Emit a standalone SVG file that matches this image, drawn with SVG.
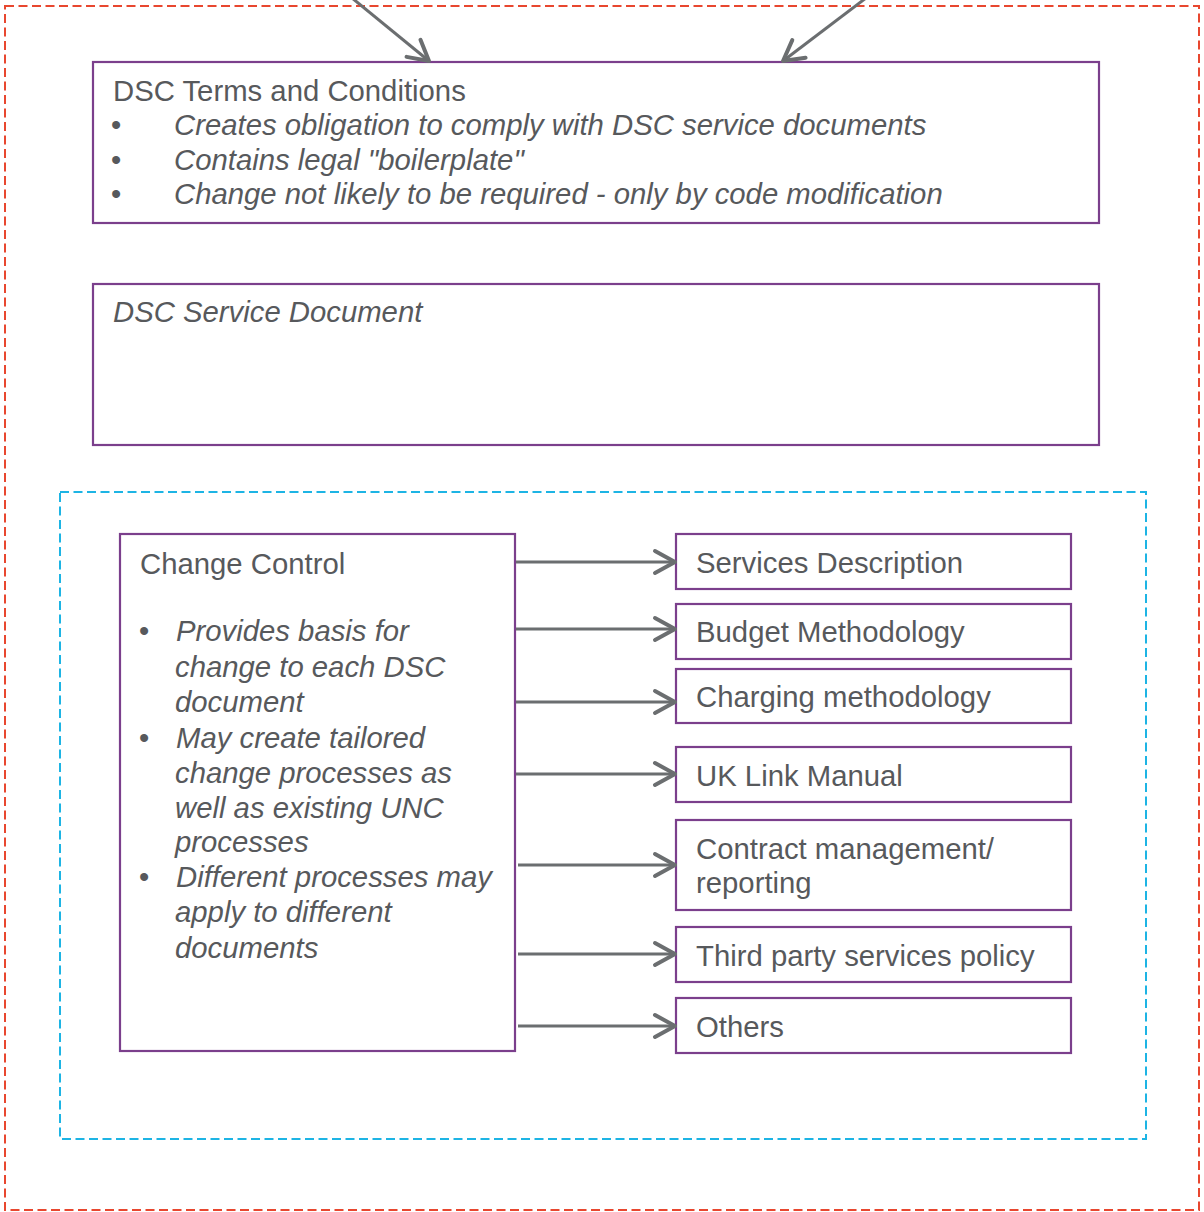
<svg xmlns="http://www.w3.org/2000/svg" width="1204" height="1212" viewBox="0 0 1204 1212">
<style>
  .frame-red{fill:none;stroke:#E8472F;stroke-width:2;stroke-dasharray:9 4.5}
  .frame-blue{fill:none;stroke:#1DB4E4;stroke-width:2;stroke-dasharray:9 4.5}
  .box{fill:#FFFFFF;stroke:#7B3F8C;stroke-width:2.2}
  .t{font-family:"Liberation Sans",Arial,sans-serif;font-size:29.3px;fill:#57595C}
  .i{font-style:italic}
  .conn{fill:none;stroke:#6B6E70;stroke-width:3;marker-end:url(#chev)}
</style>
<defs>
  <marker id="chev" markerUnits="userSpaceOnUse" markerWidth="30" markerHeight="30" viewBox="0 0 30 30" refX="24" refY="15" orient="auto">
    <path d="M4,4 L24,15 L4,26" fill="none" stroke="#6B6E70" stroke-width="4" stroke-linecap="round" stroke-linejoin="round"/>
  </marker>
</defs>
<rect width="1204" height="1212" fill="#FFFFFF"/>
<g id="outer-frame"><rect class="frame-red" x="5" y="6" width="1194" height="1204"/></g>
<g id="change-frame"><rect class="frame-blue" x="60" y="492" width="1086" height="647"/></g>

<g id="dsc-terms">
  <rect class="box" x="93" y="62" width="1006" height="161"/>
  <text class="t" x="113" y="101">DSC Terms and Conditions</text>
  <text class="t" x="111" y="135">•</text>
  <text class="t i" x="174" y="135">Creates obligation to comply with DSC service documents</text>
  <text class="t" x="111" y="170">•</text>
  <text class="t i" x="174" y="170">Contains legal "boilerplate"</text>
  <text class="t" x="111" y="204">•</text>
  <text class="t i" x="174" y="204">Change not likely to be required - only by code modification</text>
</g>

<g id="dsc-service-document">
  <rect class="box" x="93" y="284" width="1006" height="161"/>
  <text class="t i" x="113" y="322">DSC Service Document</text>
</g>

<g id="change-control">
  <rect class="box" x="120" y="534" width="395" height="517"/>
  <text class="t" x="140" y="574">Change Control</text>
  <text class="t" x="139" y="641">•</text>
  <text class="t i" x="176" y="641">Provides basis for</text>
  <text class="t i" x="175" y="677">change to each DSC</text>
  <text class="t i" x="175" y="712">document</text>
  <text class="t" x="139" y="748">•</text>
  <text class="t i" x="176" y="748">May create tailored</text>
  <text class="t i" x="175" y="783">change processes as</text>
  <text class="t i" x="175" y="818">well as existing UNC</text>
  <text class="t i" x="175" y="852">processes</text>
  <text class="t" x="139" y="887">•</text>
  <text class="t i" x="176" y="887">Different processes may</text>
  <text class="t i" x="175" y="922">apply to different</text>
  <text class="t i" x="175" y="958">documents</text>
</g>

<g id="services-description">
  <rect class="box" x="676" y="534" width="395" height="55"/>
  <text class="t" x="696" y="573">Services Description</text>
</g>
<g id="budget-methodology">
  <rect class="box" x="676" y="604" width="395" height="55"/>
  <text class="t" x="696" y="642">Budget Methodology</text>
</g>
<g id="charging-methodology">
  <rect class="box" x="676" y="669" width="395" height="54"/>
  <text class="t" x="696" y="707">Charging methodology</text>
</g>
<g id="uk-link-manual">
  <rect class="box" x="676" y="747" width="395" height="55"/>
  <text class="t" x="696" y="786">UK Link Manual</text>
</g>
<g id="contract-management">
  <rect class="box" x="676" y="820" width="395" height="90"/>
  <text class="t" x="696" y="859">Contract management/</text>
  <text class="t" x="696" y="893">reporting</text>
</g>
<g id="third-party">
  <rect class="box" x="676" y="927" width="395" height="55"/>
  <text class="t" x="696" y="966">Third party services policy</text>
</g>
<g id="others">
  <rect class="box" x="676" y="998" width="395" height="55"/>
  <text class="t" x="696" y="1037">Others</text>
</g>

<g id="connectors">
  <line class="conn" x1="352" y1="-2" x2="429" y2="61"/>
  <line class="conn" x1="866" y1="-2" x2="783" y2="61"/>
  <line class="conn" x1="516" y1="562" x2="675" y2="562"/>
  <line class="conn" x1="516" y1="629" x2="675" y2="629"/>
  <line class="conn" x1="516" y1="702" x2="675" y2="702"/>
  <line class="conn" x1="516" y1="774" x2="675" y2="774"/>
  <line class="conn" x1="518" y1="865" x2="675" y2="865"/>
  <line class="conn" x1="518" y1="954" x2="675" y2="954"/>
  <line class="conn" x1="518" y1="1026" x2="675" y2="1026"/>
</g>
</svg>
